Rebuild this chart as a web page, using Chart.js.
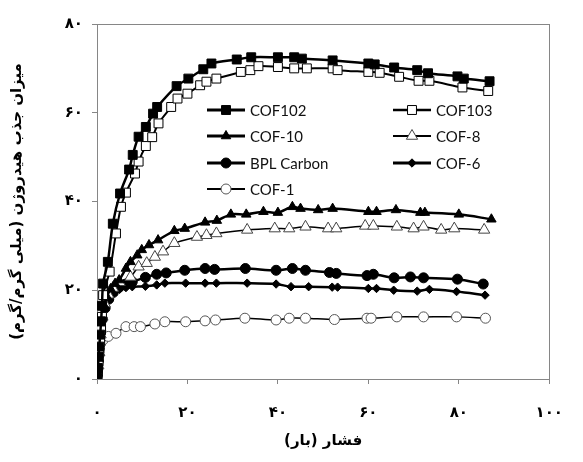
<!DOCTYPE html>
<html>
<head>
<meta charset="utf-8">
<script src="https://cdn.jsdelivr.net/npm/chart.js@4.4.1/dist/chart.umd.min.js"></script>
<style>
html,body{margin:0;padding:0;background:#fff;}
#wrap{width:583px;height:462px;position:relative;}
</style>
</head>
<body>
<div id="wrap"><canvas id="c" width="583" height="462"></canvas></div>
<script>
// ---- data ----
const xTickLabels = ['۰','۲۰','۴۰','۶۰','۸۰','۱۰۰'];
const yTickLabels = ['۰','۲۰','۴۰','۶۰','۸۰'];
const xTitle = 'فشار (بار)';
const yTitle = 'میزان جذب هیدروژن (میلی گرم/گرم)';

const cof102X = [0.1,0.2,0.35,0.5,0.7,0.9,1.1,1.35,2.4,3.5,5.1,7.1,7.9,9.2,10.8,12.4,13.3,17.6,20.2,23.5,25.3,30.9,34.1,40,43.6,45.3,52.1,60,61.4,65.7,70.8,73.2,79.7,81.1,86.8];
const cof102Y = [0.8,2.5,5,7.3,10,13,16.5,21.5,26.4,35,41.8,47.2,50.5,54.6,56.8,59.8,61.3,66,67.7,69.8,71.1,72,72.5,72.5,72.5,72.2,71.8,71.1,70.9,70.2,69.6,68.9,68.2,67.7,67.1];

const cof103X = [0.1,0.2,0.35,0.5,0.7,0.9,1.1,1.35,2.8,4.2,5.3,6.4,8.4,9.2,10.8,12.2,13.6,16.4,17.8,20,22.8,24.2,26.4,31.8,33.9,35.7,40,43.6,46.4,52.1,53.2,60,62.5,66.8,71.1,73.5,80.8,86.5];
const cof103Y = [0.6,2,4,6,8.5,11,14,18.9,24.2,32.8,38.8,42,46.3,49,52.5,54.5,57.6,61.3,63.2,64.3,66.2,67,67.7,69.2,69.6,70.5,70.3,70,70,70,69.6,69.2,69,68.1,67.2,67.2,65.7,64.9];

const cof10X = [0.1,0.2,0.35,0.5,0.7,0.9,1.2,1.6,2.2,3,4,4.9,6.4,7.4,8.9,9.9,11.5,13.5,17.1,19.4,23.9,26.5,29.6,33,36.8,40,43.2,45,48.9,52.1,60,61.8,66.1,71.5,72.5,80,87.2];
const cof10Y = [1,2.5,4.5,6.5,9,11.5,14,16.5,18.5,20.3,21.5,22.3,24.9,26.4,27.9,29.1,30.2,31.3,33.4,33.9,35.3,35.7,37.1,37.1,37.7,37.5,38.8,38.4,38.1,38.4,37.7,37.7,38.1,37.5,37.5,37.1,36];

const cof8X = [0.1,0.3,0.5,0.8,1.2,1.7,2.5,3.5,5,7.4,9.2,11,12.8,14.6,17.1,22.1,24.2,26.4,33.2,39.3,42.5,46.1,51.1,52.9,59.3,61.1,66.3,70,72.2,76.1,79,85.6];
const cof8Y = [0,3,6,10,14,17,19,20.5,21.8,23,25.3,26.1,27.5,28.7,30.6,32,32.4,32.8,33.6,33.9,33.9,34.3,33.9,33.9,34.5,34.5,34.3,33.9,34.3,33.6,33.9,33.6];

const bplX = [0.1,0.3,0.5,0.8,1.2,1.8,2.6,3.6,5,6.4,7.8,10.7,13.2,15.3,19.4,23.9,26,32.8,39.6,43.2,46.1,51.4,52.9,59.7,61.1,65.7,69.3,72.2,79.7,85.4];
const bplY = [1,4,7,10.5,13.5,16,18,19.5,20.8,21.4,21.9,22.9,23.6,23.9,24.5,24.9,24.7,24.9,24.5,24.9,24.5,24,23.8,23.3,23.6,22.8,23,22.8,22.5,21.4];

const cof6X = [0.1,0.3,0.5,0.8,1.2,1.8,2.6,3.6,5,6.4,7.8,10.7,13.2,15,19.6,23.9,26.4,33.2,39.6,42.9,46.8,52,53.2,60,61.8,65.6,70.8,73.5,79.5,85.8];
const cof6Y = [1.5,5,8,11.5,14.5,17,18.5,19.5,20.2,20.6,20.8,20.9,21.2,21.6,21.6,21.6,21.6,21.6,21.4,20.8,20.8,20.7,20.7,20.4,20.4,20,19.8,20.2,19.7,18.9];

const cof1X = [0.1,0.2,0.35,0.5,0.8,1.35,2.5,4.2,6.4,8.2,9.6,12.8,15,19.6,23.9,26.2,32.7,39.6,42.5,46.1,52.5,59.7,60.6,66.3,72.2,79.5,85.9];
const cof1Y = [1,3,5,6.5,8,8.8,9.6,10.3,11.8,11.8,11.8,12.4,12.9,12.9,13.1,13.3,13.7,13.3,13.7,13.7,13.4,13.7,13.7,14,14,14,13.7];

const seriesNames = ['COF102','COF103','COF-10','COF-8','BPL Carbon','COF-6','COF-1'];

function pts(xs, ys){ return xs.map((x,i)=>({x:x, y:ys[i]})); }

const ds = [
  {label:seriesNames[0], data:pts(cof102X,cof102Y), borderColor:'#000', borderWidth:2.5, pointStyle:'rect', pointRadius:6.3, pointBackgroundColor:'#000', pointBorderColor:'#000', pointBorderWidth:1},
  {label:seriesNames[1], data:pts(cof103X,cof103Y), borderColor:'#000', borderWidth:2, pointStyle:'rect', pointRadius:6.3, pointBackgroundColor:'#fff', pointBorderColor:'#000', pointBorderWidth:1},
  {label:seriesNames[2], data:pts(cof10X,cof10Y), borderColor:'#000', borderWidth:2.5, pointStyle:'triangle', pointRadius:5.5, pointBackgroundColor:'#000', pointBorderColor:'#000', pointBorderWidth:1},
  {label:seriesNames[3], data:pts(cof8X,cof8Y), borderColor:'#000', borderWidth:1.5, pointStyle:'triangle', pointRadius:6.5, pointBackgroundColor:'#fff', pointBorderColor:'#444', pointBorderWidth:1},
  {label:seriesNames[4], data:pts(bplX,bplY), borderColor:'#000', borderWidth:2.5, pointStyle:'circle', pointRadius:5, pointBackgroundColor:'#000', pointBorderColor:'#000', pointBorderWidth:1},
  {label:seriesNames[5], data:pts(cof6X,cof6Y), borderColor:'#000', borderWidth:2.5, pointStyle:'rectRot', pointRadius:4.2, pointBackgroundColor:'#000', pointBorderColor:'#000', pointBorderWidth:1},
  {label:seriesNames[6], data:pts(cof1X,cof1Y), borderColor:'#000', borderWidth:1.5, pointStyle:'circle', pointRadius:5, pointBackgroundColor:'#fff', pointBorderColor:'#555', pointBorderWidth:1}
];
ds.forEach(d=>{ d.fill=false; d.tension=0.3; d.showLine=true; d.pointHoverRadius=d.pointRadius; });

const boxPlugin = {
  id:'box',
  beforeDatasetsDraw(chart){
    const a = chart.chartArea, c = chart.ctx;
    c.save();
    c.strokeStyle = '#868686';
    c.lineWidth = 1;
    c.strokeRect(Math.round(a.left)+0.5, Math.round(a.top)+0.5, Math.round(a.right-a.left), Math.round(a.bottom-a.top));
    c.restore();
  }
};

const legendPlugin = {
  id:'customLegend',
  afterDatasetsDraw(chart){
    const c = chart.ctx;
    const a = chart.chartArea;
    const cols = [a.left+110, a.left+296];
    const rows = [a.top+86, a.top+112, a.top+139, a.top+165];
    const lineLen = 38;
    c.save();
    chart.data.datasets.forEach((d, i)=>{
      const col = i % 2, row = Math.floor(i/2);
      const x0 = cols[col], y0 = rows[row];
      c.strokeStyle = d.borderColor;
      c.lineWidth = d.borderWidth + 0.5;
      c.beginPath(); c.moveTo(x0, y0); c.lineTo(x0+lineLen, y0); c.stroke();
      c.fillStyle = d.pointBackgroundColor;
      c.strokeStyle = d.pointBorderColor;
      c.lineWidth = d.pointBorderWidth;
      Chart.helpers.drawPoint(c, {pointStyle:d.pointStyle, radius:d.pointRadius, rotation:0, borderWidth:d.pointBorderWidth}, x0+lineLen/2, y0);
      c.fillStyle = '#111';
      c.font = '15px Lato';
      c.textBaseline = 'middle';
      c.textAlign = 'left';
      c.fillText(d.label, x0+lineLen+5, y0+1);
    });
    c.restore();
  }
};

new Chart(document.getElementById('c'), {
  type:'scatter',
  data:{datasets:ds},
  options:{
    responsive:false,
    animation:false,
    devicePixelRatio:1,
    layout:{padding:{top:24,right:20,left:0,bottom:0}},
    plugins:{legend:{display:false}, tooltip:{enabled:false}},
    scales:{
      x:{
        type:'linear', min:0, max:100,
        afterFit(s){ s.height = 83; },
        ticks:{stepSize:20, padding:20, color:'#000', font:{family:'DejaVu Sans', size:15, weight:'bold'},
          callback:(v)=>xTickLabels[Math.round(v/20)]},
        grid:{drawOnChartArea:false, tickLength:5, color:'#868686'},
        border:{color:'#868686'},
        title:{display:true, text:xTitle, color:'#000', font:{family:'DejaVu Sans', size:15, weight:'bold'}, padding:{top:0,bottom:12}}
      },
      y:{
        type:'linear', min:0, max:80,
        afterFit(s){ s.width = 97; },
        ticks:{stepSize:20, padding:9, color:'#000', font:{family:'DejaVu Sans', size:15, weight:'bold'},
          callback:(v)=>yTickLabels[Math.round(v/20)]},
        grid:{drawOnChartArea:false, tickLength:5, color:'#868686'},
        border:{color:'#868686'},
        title:{display:true, text:yTitle, color:'#000', font:{family:'DejaVu Sans', size:15, weight:'bold'}, padding:{top:8,bottom:0}}
      }
    }
  },
  plugins:[boxPlugin, legendPlugin]
});
</script>
</body>
</html>
